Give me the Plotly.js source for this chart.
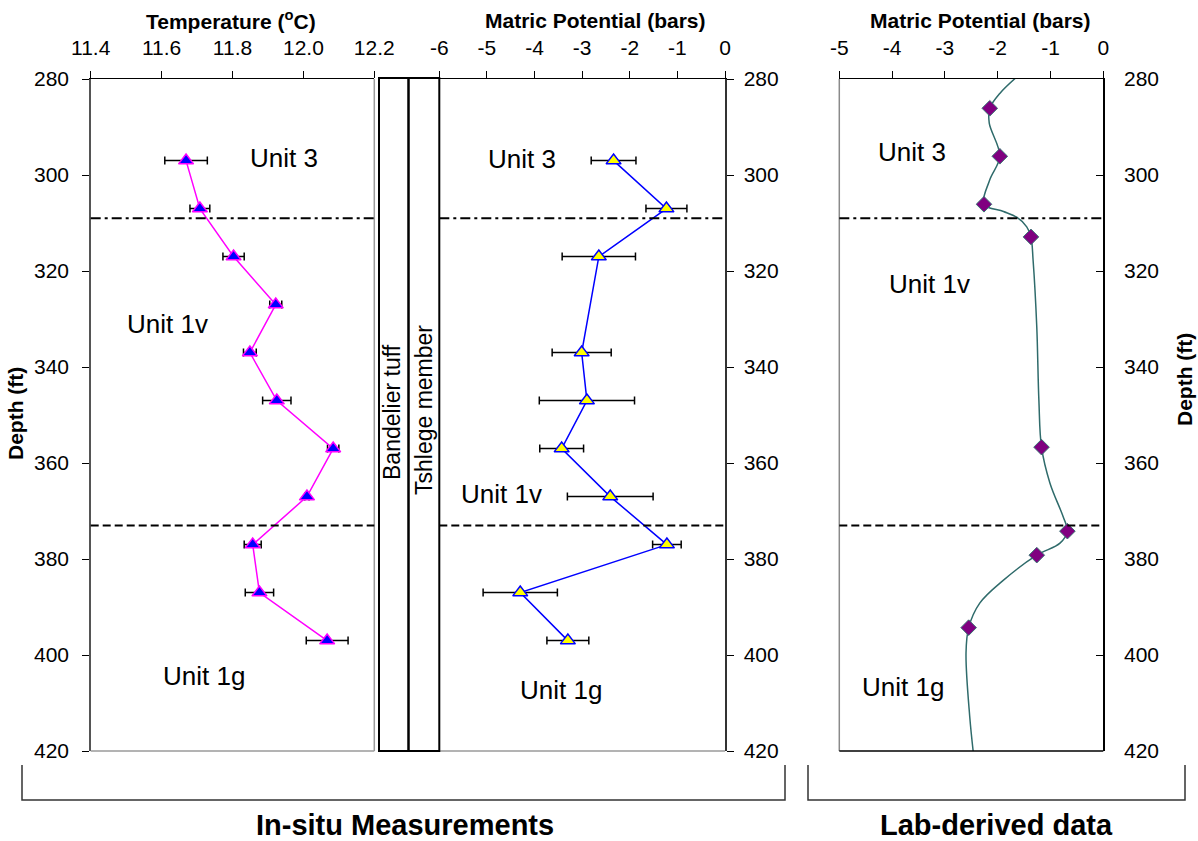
<!DOCTYPE html>
<html>
<head>
<meta charset="utf-8">
<script src="https://cdn.plot.ly/plotly-3.0.1.min.js"></script>
<style>html,body{margin:0;padding:0;background:#fff;}#chart{width:1198px;height:841px;}</style>
</head>
<body>
<div id="chart"></div>
<script>
// ---------------- data ----------------
const depthTemp = [297, 307, 317, 327, 337, 347, 357, 367, 377, 387, 397];
const tempC = [11.669, 11.708, 11.803, 11.922, 11.849, 11.925, 12.084, 12.010, 11.857, 11.876, 12.067];
const tempErr = [0.06, 0.028, 0.03, 0.017, 0.018, 0.04, 0.016, 0.006, 0.024, 0.04, 0.059];

const depthMatric = [297, 307, 317, 337, 347, 357, 367, 377, 387, 397];
const matricInSitu = [-2.34, -1.23, -2.65, -3.01, -2.90, -3.43, -2.41, -1.22, -4.30, -3.30];
const matricErr = [0.47, 0.43, 0.77, 0.62, 1.0, 0.46, 0.90, 0.30, 0.78, 0.44];

const depthLab = [286.1, 296.1, 306.1, 312.9, 356.7, 374.2, 379.2, 394.3];
const matricLab = [-2.15, -1.96, -2.26, -1.37, -1.17, -0.68, -1.26, -2.55];

const curveDepth = [279, 283, 286.1, 289.2, 296.1, 301, 306.1, 307.6, 308.8, 310.8, 312.9, 317.7, 331.6, 346.9, 356.7, 364.2, 371.2, 374.2, 376.7, 379.2, 384.4, 389.2, 394.3, 399.6, 412.8, 421.5];
const curveMatric = [-1.58, -1.96, -2.15, -2.16, -1.96, -2.15, -2.26, -1.89, -1.64, -1.45, -1.37, -1.33, -1.26, -1.22, -1.17, -1.01, -0.76, -0.68, -0.82, -1.26, -1.89, -2.34, -2.55, -2.60, -2.53, -2.45];

const boundaryDepths = [309, 373];          // Unit 3 / Unit 1v, Unit 1v / Unit 1g
const boundaryDash = ['10px,4px,3px,4px', '8px,4px'];
const depthRange = [420, 280];
const depthTicks = [280, 300, 320, 340, 360, 380, 400, 420];
const tempTicks = [11.4, 11.6, 11.8, 12.0, 12.2];
const matricTicks6 = [-6, -5, -4, -3, -2, -1, 0];
const matricTicks5 = [-5, -4, -3, -2, -1, 0];
const unitLabels = ['Unit 3', 'Unit 1v', 'Unit 1g'];
const columnLabels = ['Bandelier tuff', 'Tshlege member'];
const groupLabels = ['In-situ Measurements', 'Lab-derived data'];

// ---------------- layout helpers ----------------
const W = 1198, H = 841;
const px = v => v / W;
const py = v => 1 - v / H;
const FONT = 'Liberation Sans, Arial, Helvetica, sans-serif';
const yDom = [py(751), py(79)];

const traces = [
  {
    x: tempC, y: depthTemp, xaxis: 'x', yaxis: 'y', type: 'scatter', mode: 'lines+markers',
    line: {color: '#FF00FF', width: 1.5},
    marker: {symbol: 'triangle-up', size: 13, color: '#0000FF', line: {color: '#FF00FF', width: 1.5}},
    error_x: {type: 'data', array: tempErr, visible: true, color: '#000', thickness: 1.5, width: 4},
    showlegend: false
  },
  {
    x: matricInSitu, y: depthMatric, xaxis: 'x2', yaxis: 'y2', type: 'scatter', mode: 'lines+markers',
    line: {color: '#0000FF', width: 1.5},
    marker: {symbol: 'triangle-up', size: 13, color: '#FFFF00', line: {color: '#0000FF', width: 1.5}},
    error_x: {type: 'data', array: matricErr, visible: true, color: '#000', thickness: 1.5, width: 4},
    showlegend: false
  },
  {
    x: curveMatric, y: curveDepth, xaxis: 'x3', yaxis: 'y3', type: 'scatter', mode: 'lines',
    line: {color: '#2F6B6B', width: 1.5, shape: 'spline', smoothing: 1},
    hoverinfo: 'skip', showlegend: false
  },
  {
    x: matricLab, y: depthLab, xaxis: 'x3', yaxis: 'y3', type: 'scatter', mode: 'markers',
    marker: {symbol: 'diamond', size: 12, color: '#800080', line: {color: '#3A7474', width: 1}},
    showlegend: false
  }
];

const tickFont = {family: FONT, size: 21, color: '#000'};
function xAx(dom, anchor, range, ticks, fmt) {
  return {domain: dom, anchor: anchor, side: 'top', range: range, tickvals: ticks,
    ticktext: ticks.map(v => fmt ? v.toFixed(1) : String(v)),
    ticks: 'outside', ticklen: 7, tickwidth: 1, tickcolor: '#000', ticklabelstandoff: 7,
    showline: true, linecolor: '#000', linewidth: 1.5, showgrid: false, zeroline: false,
    tickfont: tickFont, fixedrange: true};
}
function xOver(over, range, ticks) {
  return {overlaying: over, side: 'top', range: range, tickvals: ticks, ticks: 'inside', ticklen: 7,
    tickwidth: 1, tickcolor: '#000', showticklabels: false, showline: false, showgrid: false, zeroline: false};
}

const layout = {
  width: W, height: H, margin: {l: 0, r: 0, t: 0, b: 0},
  paper_bgcolor: '#fff', plot_bgcolor: 'rgba(0,0,0,0)',
  showlegend: false, font: {family: FONT, color: '#000'},
  xaxis: xAx([px(90.7), px(374.3)], 'y', [11.4, 12.2], tempTicks, true),
  yaxis: {domain: yDom, anchor: 'x', side: 'left', range: depthRange, tickvals: depthTicks,
    ticks: 'outside', ticklen: 7, tickwidth: 1, tickcolor: '#000', ticklabelstandoff: 9,
    showline: true, linecolor: '#555', linewidth: 1.5, showgrid: false, zeroline: false, tickfont: tickFont},
  xaxis2: xAx([px(439.3), px(725)], 'y2', [-6, 0], matricTicks6, false),
  yaxis2: {domain: yDom, anchor: 'x2', side: 'right', range: depthRange, tickvals: depthTicks,
    ticks: 'outside', ticklen: 7, tickwidth: 1, tickcolor: '#000', ticklabelstandoff: 6,
    showline: true, linecolor: '#333', linewidth: 1.5, showgrid: false, zeroline: false, tickfont: tickFont},
  xaxis3: xAx([px(839.3), px(1103.3)], 'y3', [-5, 0], matricTicks5, false),
  yaxis3: {domain: yDom, anchor: 'x3', side: 'right', range: depthRange, tickvals: depthTicks,
    ticks: 'inside', ticklen: 7, tickwidth: 1, tickcolor: '#000', ticklabelstandoff: 15,
    showline: true, linecolor: '#000', linewidth: 1.5, showgrid: false, zeroline: false, tickfont: tickFont},
  xaxis4: xOver('x', [11.4, 12.2], tempTicks),
  xaxis5: xOver('x2', [-6, 0], matricTicks6),
  xaxis6: xOver('x3', [-5, 0], matricTicks5),
  yaxis4: {overlaying: 'y', side: 'left', range: depthRange, tickvals: depthTicks, ticks: 'inside', ticklen: 7,
    tickwidth: 1, tickcolor: '#000', showticklabels: false, showline: false, showgrid: false, zeroline: false},
  yaxis5: {overlaying: 'y2', side: 'right', range: depthRange, tickvals: depthTicks, ticks: 'inside', ticklen: 7,
    tickwidth: 1, tickcolor: '#000', showticklabels: false, showline: false, showgrid: false, zeroline: false},
  shapes: [],
  annotations: []
};

// borders
const S = layout.shapes;
function vline(xref, x, yref, color, w) { S.push({type: 'line', xref: xref, yref: yref, x0: x, x1: x, y0: 0, y1: 1, line: {color: color, width: w}}); }
function hline(xref, yref, y, color, w) { S.push({type: 'line', xref: xref, yref: yref, x0: 0, x1: 1, y0: y, y1: y, line: {color: color, width: w}}); }
vline('x domain', 1, 'y domain', '#9a9a9a', 1.5);
hline('x domain', 'y domain', 0, '#9a9a9a', 1.5);
hline('x2 domain', 'y2 domain', 0, '#9a9a9a', 1.5);
vline('x3 domain', 0, 'y3 domain', '#8a8a8a', 1.5);
hline('x3 domain', 'y3 domain', 0, '#000', 1.5);

// stratigraphic column boxes
S.push({type: 'rect', xref: 'paper', yref: 'paper', x0: px(379), x1: px(408.5), y0: yDom[0], y1: py(78), line: {color: '#000', width: 2}, fillcolor: 'rgba(0,0,0,0)'});
S.push({type: 'rect', xref: 'paper', yref: 'paper', x0: px(408.5), x1: px(439.3), y0: yDom[0], y1: py(78), line: {color: '#000', width: 2}, fillcolor: 'rgba(0,0,0,0)'});

// boundaries
[['x', 'y'], ['x2', 'y2'], ['x3', 'y3']].forEach(([xa, ya]) => {
  boundaryDepths.forEach((d, i) => {
    S.push({type: 'line', xref: xa + ' domain', yref: ya, x0: 0, x1: 1, y0: d, y1: d,
      line: {color: '#000', width: 2, dash: boundaryDash[i]}});
  });
});

// brackets
function bracket(x0, x1) {
  S.push({type: 'path', xref: 'paper', yref: 'paper',
    path: `M${px(x0)},${py(765)} L${px(x0)},${py(800)} L${px(x1)},${py(800)} L${px(x1)},${py(765)}`,
    line: {color: '#333', width: 1.5}});
}
bracket(22, 785);
bracket(808, 1185);

// annotations
const A = layout.annotations;
function ann(text, x, y, size, bold, angle) {
  A.push({text: bold ? '<b>' + text + '</b>' : text, xref: 'paper', yref: 'paper', x: px(x), y: py(y),
    xanchor: 'center', yanchor: 'middle', showarrow: false, textangle: angle || 0,
    font: {family: FONT, size: size, color: '#000'}});
}
ann('Temperature (<sup>o</sup>C)', 231, 20, 21, true);
ann('Matric Potential (bars)', 595.5, 20, 21, true);
ann('Matric Potential (bars)', 981, 20, 21, true);
ann('Depth (ft)', 16, 414, 21, true, -90);
ann('Depth (ft)', 1184, 380, 21, true, -90);

ann(unitLabels[0], 284, 158, 26);
ann(unitLabels[1], 167, 324, 26);
ann(unitLabels[2], 204, 676, 26);
ann(unitLabels[0], 522, 159, 26);
ann(unitLabels[1], 501, 494, 26);
ann(unitLabels[2], 561, 690, 26);
ann(unitLabels[0], 912, 152, 26);
ann(unitLabels[1], 929, 284, 26);
ann(unitLabels[2], 903, 687, 26);

ann(columnLabels[0], 392, 412, 23, false, -90);
ann(columnLabels[1], 424, 410, 23, false, -90);

ann(groupLabels[0], 405, 825, 29, true);
ann(groupLabels[1], 996, 825, 29, true);

Plotly.newPlot('chart', traces, layout, {displayModeBar: false, staticPlot: true});
</script>
</body>
</html>
